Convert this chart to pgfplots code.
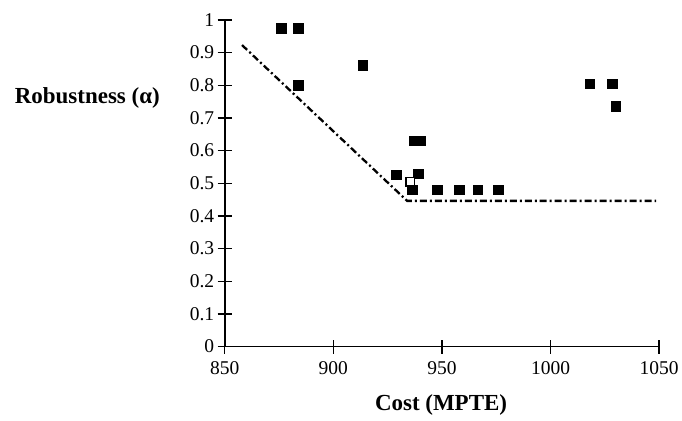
\documentclass[border=0pt]{standalone}
\usepackage{pgfplots}
\pgfplotsset{compat=1.18}
\usepackage{fontspec}
\setmainfont{Liberation Serif}
\begin{document}
\begin{tikzpicture}
\begin{axis}[
  scale only axis, width=435pt, height=327pt,
  xmin=850, xmax=1050, ymin=0, ymax=1,
  axis x line=bottom, axis y line=left,
  axis line style={-, line width=1.8pt},
  xtick={850,900,950,1000,1050},
  ytick={0,0.1,0.2,0.3,0.4,0.5,0.6,0.7,0.8,0.9,1},
  yticklabels={0,0.1,0.2,0.3,0.4,0.5,0.6,0.7,0.8,0.9,1},
  xticklabels={850,900,950,1000,1050},
  tick align=center, major tick length=14pt,
  tick style={line width=1.5pt, black},
  tick label style={font=\fontsize{19.5}{22}\selectfont},
  /pgf/number format/assume math mode=true,
  xticklabel style={yshift=-4pt},
  yticklabel style={xshift=0pt},
  every axis y label/.style={at={(rel axis cs:-0.316,0.761)}, anchor=center, font=\fontsize{23}{26}\selectfont\bfseries},
  every axis x label/.style={at={(rel axis cs:0.498,-0.18)}, anchor=center, font=\fontsize{23}{26}\selectfont\bfseries},
  ylabel={Robustness (α)},
  xlabel={Cost (MPTE)},
  clip=false,
]
\addplot[only marks, mark=square*, mark size=4.9pt, black] coordinates {
(876,0.975) (884,0.975) (884,0.80) (913.5,0.862)
(937,0.63) (940,0.63) (929,0.526) (939,0.529) (936.5,0.48)
(948,0.48) (958,0.48) (966.5,0.48) (976,0.48)
(1018,0.805) (1028.5,0.805) (1030,0.737)
};
\addplot[only marks, mark=square*, mark size=4.3pt, black, mark options={fill=white, line width=1.5pt}] coordinates {(935.5,0.505)};
\addplot[black, line width=2.3pt, dash pattern=on 7pt off 3pt on 2pt off 3pt] coordinates {
(858,0.923) (934,0.446) (1048.6,0.446)
};
\path (rel axis cs:-0.517,-0.226) rectangle (rel axis cs:1.0506,1.061);
\end{axis}
\end{tikzpicture}
\end{document}
